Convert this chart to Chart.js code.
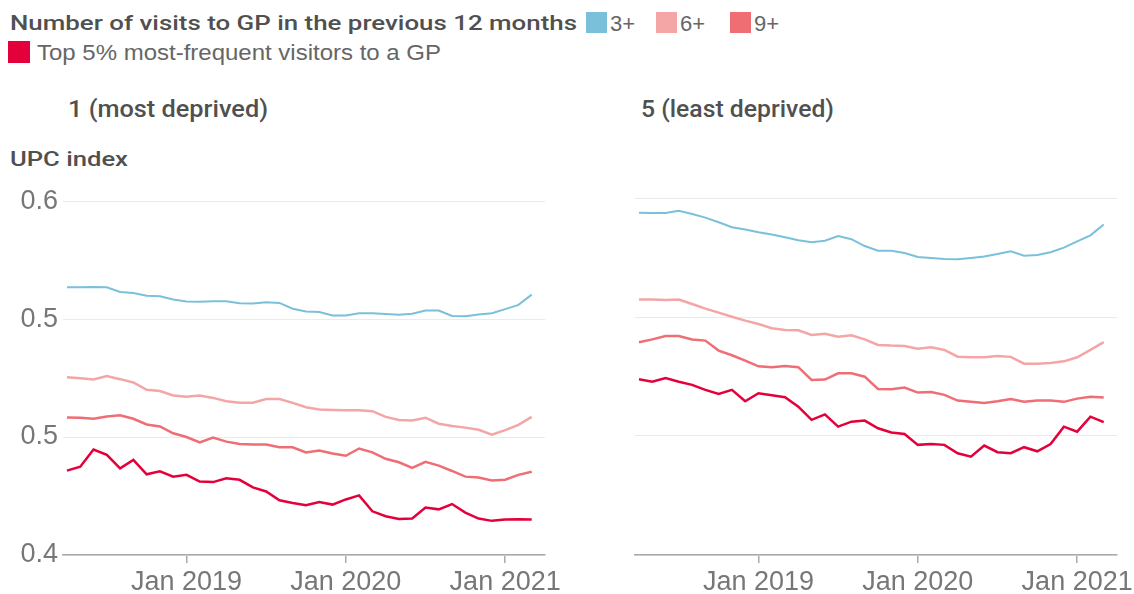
<!DOCTYPE html>
<html>
<head>
<meta charset="utf-8">
<script src="https://cdn.jsdelivr.net/npm/chart.js@4.4.0/dist/chart.umd.min.js"></script>
<style>
  body { margin: 0; width: 1134px; height: 594px; background: #fff; position: relative; overflow: hidden; font-family: "Liberation Sans", Arial, sans-serif; }
  .txt { position: absolute; white-space: nowrap; line-height: 1; transform-origin: 0 0; }
  .head { font-family: Roboto, sans-serif; font-weight: 500; color: #505050; }
  .lab { color: #666; font-size: 22px; }
  .sw { position: absolute; width: 21px; height: 21px; }
  canvas { position: absolute; }
</style>
</head>
<body>

<div class="txt head" data-w="567" style="left:10px; top:13px; font-size:21px;">Number of visits to GP in the previous 12 months</div>
<div class="sw" style="left:586px; top:12px; background:#7bc0da;"></div>
<div class="txt lab" style="left:610px; top:13px;">3+</div>
<div class="sw" style="left:656px; top:12px; background:#f4a6a6;"></div>
<div class="txt lab" style="left:680px; top:13px;">6+</div>
<div class="sw" style="left:730px; top:12px; background:#ef6e74;"></div>
<div class="txt lab" style="left:754px; top:13px;">9+</div>

<div class="sw" style="left:8px; top:41px; width:22px; height:22px; background:#e4003a;"></div>
<div class="txt lab" data-w="404" style="left:37px; top:42px;">Top 5% most-frequent visitors to a GP</div>

<div class="txt head" data-w="200" style="left:68px; top:98px; font-size:23px;">1 (most deprived)</div>
<div class="txt head" data-w="193" style="left:641px; top:98px; font-size:23px;">5 (least deprived)</div>
<div class="txt head" data-w="118" style="left:10px; top:149px; font-size:21px;">UPC index</div>

<canvas id="leftChart" width="575" height="414" style="left:0px; top:180px;"></canvas>
<canvas id="rightChart" width="562" height="414" style="left:572px; top:180px;"></canvas>

<script>
// monthly, Apr 2018 .. Mar 2021
const months = ['2018-04','2018-05','2018-06','2018-07','2018-08','2018-09','2018-10','2018-11','2018-12',
  '2019-01','2019-02','2019-03','2019-04','2019-05','2019-06','2019-07','2019-08','2019-09','2019-10','2019-11','2019-12',
  '2020-01','2020-02','2020-03','2020-04','2020-05','2020-06','2020-07','2020-08','2020-09','2020-10','2020-11','2020-12',
  '2021-01','2021-02','2021-03'];

const xTicks = [12, 24, 36];
const xTickLabels = ['Jan 2019', 'Jan 2020', 'Jan 2021'];
const yTicks = [0.4, 0.4667, 0.5333, 0.6];

const seriesNames = ['3+', '6+', '9+', 'Top 5% most-frequent visitors to a GP'];
const seriesColors = ['#7bc0da', '#f4a6a6', '#ef6e74', '#e4003a'];

// 1 (most deprived)
const most3 = [0.5513,0.5513,0.5515,0.5513,0.5487,0.5481,0.5466,0.5463,0.5444,0.5433,0.5431,0.5435,0.5435,0.5423,0.5422,0.5429,0.5425,0.5392,
  0.5377,0.5373,0.5354,0.5354,0.5366,0.5367,0.5362,0.5358,0.5364,0.5382,0.5382,0.5351,0.5349,0.5360,0.5367,0.5390,0.5414,0.5472];
const most6 = [0.5005,0.4999,0.4992,0.5011,0.4994,0.4975,0.4934,0.4927,0.4902,0.4895,0.4902,0.4888,0.4869,0.4861,0.4861,0.4882,0.4882,0.4860,
  0.4835,0.4822,0.4820,0.4818,0.4818,0.4813,0.4781,0.4763,0.4761,0.4776,0.4742,0.4729,0.4720,0.4708,0.4680,0.4706,0.4736,0.4781];
const most9 = [0.4777,0.4776,0.4770,0.4783,0.4790,0.4770,0.4738,0.4727,0.4688,0.4667,0.4636,0.4664,0.4641,0.4628,0.4624,0.4624,0.4609,0.4609,
  0.4580,0.4591,0.4574,0.4561,0.4602,0.4580,0.4544,0.4524,0.4492,0.4527,0.4505,0.4475,0.4443,0.4438,0.4421,0.4426,0.4453,0.4471];
const mostTop = [0.4477,0.4499,0.4596,0.4566,0.4490,0.4538,0.4456,0.4473,0.4443,0.4453,0.4415,0.4412,0.4434,0.4425,0.4382,0.4359,0.4309,0.4294,
  0.4281,0.4299,0.4285,0.4314,0.4337,0.4247,0.4219,0.4204,0.4206,0.4268,0.4258,0.4288,0.4240,0.4206,0.4193,0.4200,0.4202,0.4200];

// 5 (least deprived)
const least3 = [0.5918,0.5916,0.5916,0.5929,0.5910,0.5890,0.5864,0.5836,0.5823,0.5808,0.5795,0.5780,0.5763,0.5752,0.5761,0.5787,0.5769,0.5731,
  0.5705,0.5705,0.5692,0.5670,0.5664,0.5658,0.5657,0.5664,0.5672,0.5686,0.5701,0.5677,0.5681,0.5696,0.5722,0.5757,0.5791,0.5851];
const least6 = [0.5431,0.5431,0.5429,0.5431,0.5406,0.5380,0.5358,0.5335,0.5313,0.5294,0.5270,0.5261,0.5259,0.5233,0.5240,0.5223,0.5231,0.5208,
  0.5177,0.5173,0.5171,0.5156,0.5164,0.5149,0.5111,0.5108,0.5108,0.5115,0.5110,0.5072,0.5072,0.5076,0.5085,0.5108,0.5149,0.5193];
const least9 = [0.5192,0.5208,0.5227,0.5227,0.5207,0.5201,0.5145,0.5119,0.5089,0.5057,0.5052,0.5059,0.5052,0.4981,0.4983,0.5018,0.5018,0.4999,
  0.4930,0.4928,0.4938,0.4910,0.4913,0.4897,0.4865,0.4858,0.4852,0.4861,0.4874,0.4859,0.4865,0.4865,0.4858,0.4876,0.4887,0.4882];
const leastTop = [0.4984,0.4971,0.4992,0.4971,0.4953,0.4925,0.4902,0.4925,0.4861,0.4906,0.4895,0.4884,0.4831,0.4757,0.4788,0.4719,0.4747,0.4753,
  0.4710,0.4686,0.4678,0.4617,0.4622,0.4617,0.4570,0.4551,0.4613,0.4576,0.4570,0.4604,0.4581,0.4622,0.4719,0.4691,0.4775,0.4744];

// month index from Jan 2018 = 0
const monthIdx = months.map(m => (parseInt(m.slice(0, 4)) - 2018) * 12 + parseInt(m.slice(5)) - 1);

// stretch heading texts to the widths they have in the original picture
document.querySelectorAll('[data-w]').forEach(el => {
    const w = el.getBoundingClientRect().width;
    el.style.transform = 'scaleX(' + (parseFloat(el.dataset.w) / w) + ')';
});

const tickFont = { family: 'Liberation Sans', size: 27 };

function makePanel(id, series, showYLabels, padRight) {
    const ctx = document.getElementById(id).getContext('2d');
    new Chart(ctx, {
        type: 'line',
        data: {
            datasets: series.map((vals, i) => ({
                label: seriesNames[i],
                data: vals.map((v, j) => ({ x: monthIdx[j], y: v })),
                borderColor: seriesColors[i],
                borderWidth: i == 0 ? 2 : 2.5,
                pointRadius: 0,
                tension: 0,
                fill: false,
            }))
        },
        options: {
            responsive: false,
            animation: false,
            layout: { padding: { top: 18, right: padRight, left: 0, bottom: 0 } },
            plugins: { legend: { display: false }, tooltip: { enabled: false } },
            scales: {
                x: {
                    type: 'linear',
                    bounds: 'data',
                    min: 2.7,
                    max: 39,
                    afterBuildTicks: s => { s.ticks = xTicks.map(v => ({ value: v })); },
                    afterFit: s => { s.height = 39; s.paddingLeft = 0; s.paddingRight = 0; },
                    ticks: {
                        autoSkip: false,
                        maxRotation: 0,
                        padding: 3,
                        color: '#777',
                        font: tickFont,
                        callback: (v, idx) => xTickLabels[idx],
                    },
                    grid: { drawOnChartArea: false, drawTicks: true, tickLength: 8, color: '#aaa', lineWidth: 1.5 },
                    border: { display: true, color: '#aaa', width: 1.5 },
                },
                y: {
                    bounds: 'data',
                    min: 0.4,
                    max: 0.6,
                    afterBuildTicks: s => { s.ticks = yTicks.map(v => ({ value: v })); },
                    afterFit: s => { s.width = 63; },
                    ticks: {
                        display: showYLabels,
                        padding: 5,
                        color: '#777',
                        font: tickFont,
                        callback: v => v.toFixed(1),
                    },
                    grid: { color: '#e9ede7', lineWidth: 1, drawTicks: false },
                    border: { display: false },
                },
            },
        },
    });
}

makePanel('leftChart', [most3, most6, most9, mostTop], true, 30);
makePanel('rightChart', [least3, least6, least9, leastTop], false, 17);
</script>
</body>
</html>
